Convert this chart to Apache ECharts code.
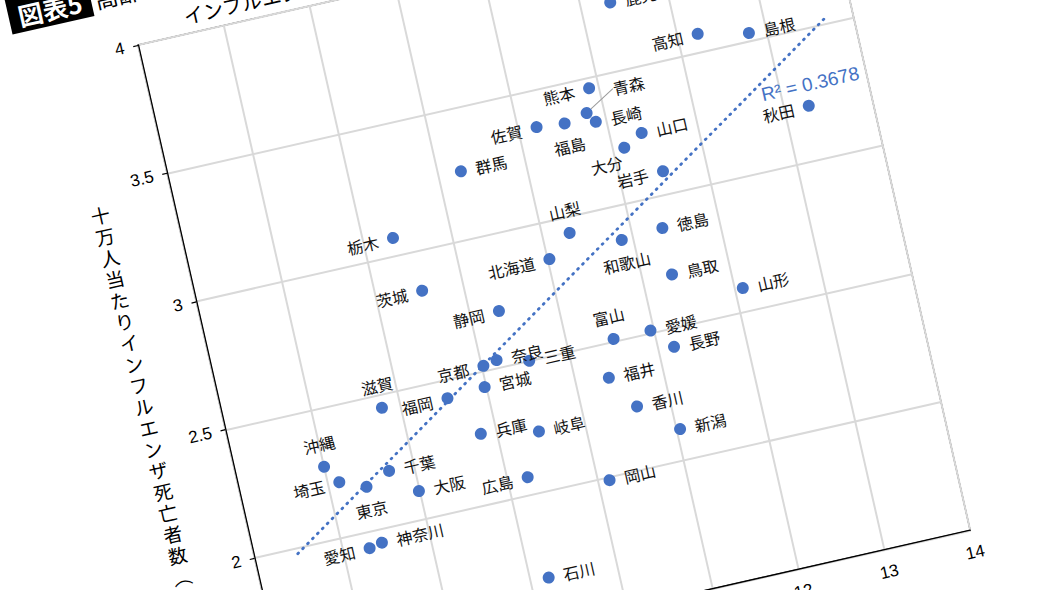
<!DOCTYPE html>
<html>
<head>
<meta charset="utf-8">
<script src="https://cdn.jsdelivr.net/npm/echarts@6/dist/echarts.min.js"></script>
<style>
html, body { margin: 0; padding: 0; width: 1050px; height: 590px; overflow: hidden; background: #fff; }
/* the source figure is tilted: draw it flat, then rotate the whole chart */
#wrap { position: absolute; left: -62px; top: -55px; width: 1000px; height: 820px;
        transform-origin: 200px 100px; transform: rotate(-12.8deg); }
</style>
</head>
<body>
<div id="wrap"></div>
<script>
var names = ['鹿児島','高知','島根','熊本','青森','長崎','佐賀','福島','山口','大分','岩手','群馬','秋田',
             '栃木','茨城','北海道','山梨','静岡','京都','奈良','三重','宮城','滋賀','福岡',
             '和歌山','徳島','鳥取','山形','富山','愛媛','長野','福井','香川','新潟',
             '兵庫','岐阜','広島','岡山','沖縄','埼玉','東京','千葉','大阪','愛知','神奈川','石川'];
var xVals = [11.34,12.23,12.80,10.89,10.80,10.88,10.21,10.53,11.36,11.13,11.50,9.26,13.28,
             8.34,8.53,10.02,10.31,9.33,9.02,9.18,9.54,8.98,7.79,8.54,
             10.87,11.35,11.34,12.09,10.53,10.96,11.18,10.38,10.62,11.04,
             8.82,9.47,9.23,10.13,7.00,7.13,7.42,7.71,7.99,7.30,7.45,9.21];
var yVals = [3.76,3.57,3.53,3.46,3.37,3.33,3.36,3.35,3.25,3.21,3.09,3.26,3.21,
             3.07,2.85,2.86,2.94,2.71,2.52,2.53,2.50,2.44,2.45,2.43,
             2.87,2.88,2.70,2.59,2.51,2.51,2.43,2.37,2.24,2.12,
             2.27,2.23,2.07,1.99,2.28,2.21,2.17,2.21,2.11,1.94,1.95,1.68];
// dotted linear trend line, ends
var trendX = [6.49, 13.72];
var trendY = [1.98, 3.53];
var r2Text = 'R² = 0.3678';
var r2At = [13.35, 3.29];
var yTitle = '十万人当たりインフルエンザ死亡者数︵人︶';

// where each name sits next to its dot (default right)
var labelSide = {
    '高知':'left','熊本':'left','佐賀':'left','岩手':'left','秋田':'left','栃木':'left','茨城':'left',
    '北海道':'left','静岡':'left','京都':'left','福岡':'left','広島':'left','埼玉':'left','愛知':'left',
    '大分':'left','山梨':'top','滋賀':'top','富山':'top','沖縄':'top',
    '福島':'bottom','和歌山':'bottom','東京':'bottom'
};
// labels nudged by hand in the original
var nudge = { '青森': { dx: 16, dy: -18 }, '大分': { dx: 10, dy: 13 } };

var blue = '#4472C4';
var jp = '"Noto Sans CJK JP", sans-serif';

var pts = names.map(function (n, i) {
    var item = { name: n, value: [xVals[i], yVals[i]], label: { position: labelSide[n] || 'right' } };
    if (n === '青森') item.labelLine = { show: true, lineStyle: { color: '#9a9a9a', width: 1 } };
    return item;
});

var titles = [
    { type: 'rect', shape: { x: 80, y: 26, width: 84, height: 36 }, style: { fill: '#000' } },
    { type: 'text', x: 122, y: 45, style: { text: '図表5', fill: '#fff', font: 'bold 25px ' + jp,
        textAlign: 'center', textVerticalAlign: 'middle' } },
    { type: 'text', x: 168, y: 46, style: { text: '高齢化率と', fill: '#000', font: '23px ' + jp,
        textAlign: 'left', textVerticalAlign: 'middle' } },
    { type: 'text', x: 251, y: 82, style: { text: 'インフルエンザ死亡者数の関係', fill: '#000', font: '20px ' + jp,
        textAlign: 'left', textVerticalAlign: 'middle' } },
    { type: 'text', x: 125.5, y: 246, style: { text: yTitle.split('').join('\n'), fill: '#000',
        font: '19px ' + jp, lineHeight: 21.8, textAlign: 'center', textVerticalAlign: 'top' } }
];

var chart = echarts.init(document.getElementById('wrap'), null, { renderer: 'svg' });
chart.setOption({
    animation: false,
    backgroundColor: 'transparent',
    grid: {
        left: 200, top: 100, width: 704, height: 657.7,
        show: true, borderColor: '#000', borderWidth: 1.3,
        outerBoundsMode: 'none'
    },
    xAxis: {
        type: 'value', min: 6, max: 14, interval: 1,
        axisLine: { show: true, lineStyle: { color: '#000', width: 1.3 } },
        axisTick: { show: false },
        axisLabel: { color: '#000', fontSize: 17, fontFamily: '"Liberation Sans", Arial', margin: 14 },
        splitLine: { show: true, lineStyle: { color: '#d9d9d9', width: 2 } }
    },
    yAxis: {
        type: 'value', min: 1.5, max: 4, interval: 0.5,
        axisLine: { show: true, lineStyle: { color: '#000', width: 1.3 } },
        axisTick: { show: true, length: 5, lineStyle: { color: '#000', width: 1.2 } },
        axisLabel: { color: '#000', fontSize: 17, fontFamily: '"Liberation Sans", Arial', margin: 14 },
        splitLine: { show: true, lineStyle: { color: '#d9d9d9', width: 2 } }
    },
    graphic: titles,
    series: [
        {
            type: 'line',
            data: trendX.map(function (x, i) { return [x, trendY[i]]; }),
            symbol: 'none',
            silent: true,
            lineStyle: { color: blue, width: 2.8, type: [1, 6], cap: 'round' },
            z: 3
        },
        {
            type: 'scatter',
            data: pts,
            symbolSize: 12,
            itemStyle: { color: blue, opacity: 1 },
            label: { show: true, formatter: '{b}', color: '#111', fontSize: 16, fontFamily: jp, distance: 9 },
            labelLayout: function (p) {
                return nudge[names[p.dataIndex]] || {};
            },
            z: 4
        }
    ]
});

// R² note placed at its data position through the grid's own scale
var r2Px = chart.convertToPixel({ gridIndex: 0 }, r2At);
chart.setOption({
    graphic: titles.concat([
        { type: 'text', x: r2Px[0], y: r2Px[1], z: 10, style: { text: r2Text, fill: blue,
            font: '19px "Liberation Sans", Arial', textAlign: 'center', textVerticalAlign: 'middle' } }
    ])
});
</script>
</body>
</html>
